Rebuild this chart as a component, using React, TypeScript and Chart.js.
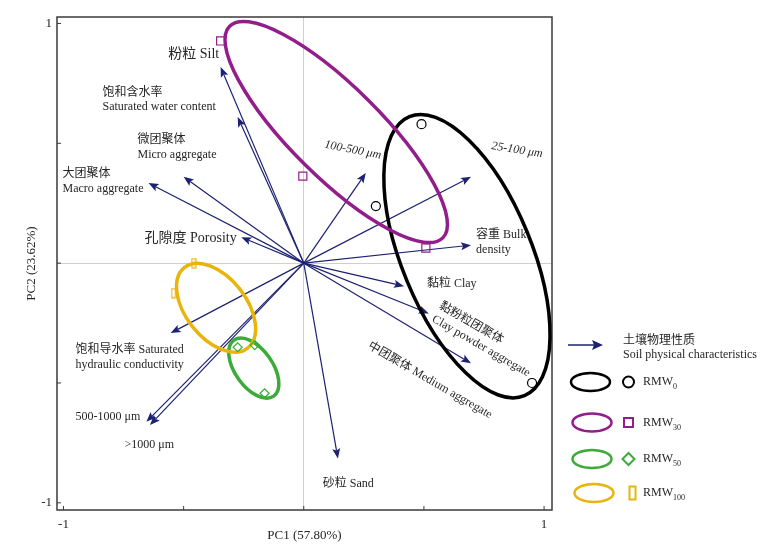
import React, { useEffect, useRef } from 'react';
import { Chart, registerables } from 'chart.js';

Chart.register(...registerables);

// ---------------- data ----------------
const variableNames = [
  '粉粒 Silt', '饱和含水率 Saturated water content', '微团聚体 Micro aggregate', '大团聚体 Macro aggregate',
  '孔隙度 Porosity', '100-500 μm', '25-100 μm', '容重 Bulk density', '黏粒 Clay',
  '黏粉粒团聚体 Clay powder aggregate', '中团聚体 Medium aggregate', '砂粒 Sand',
  '饱和导水率 Saturated hydraulic conductivity', '500-1000 μm', '>1000 μm',
];
const loadingPC1 = [-0.346, -0.275, -0.5, -0.646, -0.26, 0.258, 0.696, 0.696, 0.417, 0.52, 0.696, 0.142, -0.554, -0.655, -0.64];
const loadingPC2 = [0.818, 0.61, 0.36, 0.334, 0.108, 0.376, 0.36, 0.075, -0.096, -0.21, -0.418, -0.815, -0.292, -0.662, -0.675];

const groupNames = ['RMW', 'RMW', 'RMW', 'RMW'];
const groupSubscripts = ['0', '30', '50', '100'];

const rmw0PC1 = [0.49, 0.30, 0.95];
const rmw0PC2 = [0.58, 0.238, -0.50];
const rmw30PC1 = [-0.346, -0.004, 0.508];
const rmw30PC2 = [0.927, 0.363, 0.063];
const rmw50PC1 = [-0.275, -0.204, -0.163];
const rmw50PC2 = [-0.351, -0.342, -0.543];
const rmw100PC1 = [-0.458, -0.542];
const rmw100PC2 = [0.0, -0.125];

const ellipseCenterPC1 = [0.679, 0.135, -0.208, -0.365];
const ellipseCenterPC2 = [0.029, 0.547, -0.438, -0.186];
const ellipseSemiMajor = [0.628, 0.625, 0.143, 0.213];
const ellipseSemiMinor = [0.27, 0.188, 0.078, 0.126];
const ellipseTiltDeg = [67.6, 44.8, 54.7, 52];

const axisTicks = [-1, -0.5, 0, 0.5, 1];
const labelledTicks = [-1, 1];
const xTitle = 'PC1 (57.80%)';
const yTitle = 'PC2 (23.62%)';
const legendArrowText = ['土壤物理性质', 'Soil physical characteristics'];

// ---------------- styles ----------------
const SERIF = '"Liberation Serif", "Times New Roman", "Noto Sans CJK SC", serif';
const TEXT = '#262626';
const ARROW = '#1d2270';
const groupColors = ['#000000', '#921e8c', '#3cab3a', '#e9b40c'];

// label layout (anchor in data units, left-middle unless align given)
const labelLayout = [
  { lines: ['粉粒 Silt'], x: -0.352, y: 0.873, align: 'right', rot: 0, size: 14 },
  { lines: ['饱和含水率', 'Saturated water content'], x: -0.8375, y: 0.712, rot: 0, size: 12 },
  { lines: ['微团聚体', 'Micro aggregate'], x: -0.692, y: 0.514, rot: 0, size: 12 },
  { lines: ['大团聚体', 'Macro aggregate'], x: -1.004, y: 0.372, rot: 0, size: 12 },
  { lines: ['孔隙度 Porosity'], x: -0.6625, y: 0.104, rot: 0, size: 14 },
  { lines: ['100-500 μm'], x: 0.204, y: 0.472, align: 'center', rot: 11, size: 12, italic: true },
  { lines: ['25-100 μm'], x: 0.8875, y: 0.472, align: 'center', rot: 9, size: 12, italic: true },
  { lines: ['容重 Bulk', 'density'], x: 0.717, y: 0.117, rot: 0, size: 12 },
  { lines: ['黏粒 Clay'], x: 0.5125, y: -0.088, rot: 0, size: 12 },
  { lines: ['黏粉粒团聚体'], x: 0.567, y: -0.175, rot: 30, size: 12 },
  { lines: ['Clay powder aggregate'], x: 0.5375, y: -0.23, rot: 30, size: 12 },
  { lines: ['中团聚体 Medium aggregate'], x: 0.271, y: -0.342, rot: 30, size: 12 },
  { lines: ['砂粒 Sand'], x: 0.079, y: -0.919, rot: 0, size: 12 },
  { lines: ['饱和导水率 Saturated', 'hydraulic conductivity'], x: -0.95, y: -0.363, rot: 0, size: 12 },
  { lines: ['500-1000 μm'], x: -0.95, y: -0.643, rot: 0, size: 12 },
  { lines: ['>1000 μm'], x: -0.746, y: -0.76, rot: 0, size: 12 },
];

function makeBarMarker(color: string, w: number, h: number, lw: number) {
  const c = document.createElement('canvas');
  c.width = w + 2;
  c.height = h + 2;
  const g = c.getContext('2d')!;
  g.strokeStyle = color;
  g.lineWidth = lw;
  g.strokeRect(1, 1, w, h);
  return c;
}

function drawArrow(ctx: CanvasRenderingContext2D, x0: number, y0: number, x1: number, y1: number, hl: number, hw: number) {
  const ang = Math.atan2(y1 - y0, x1 - x0);
  const c = Math.cos(ang), s = Math.sin(ang);
  const bx = x1 - hl * c, by = y1 - hl * s;
  ctx.beginPath();
  ctx.moveTo(x0, y0);
  ctx.lineTo(bx + 2 * c, by + 2 * s);
  ctx.stroke();
  ctx.beginPath();
  ctx.moveTo(x1, y1);
  ctx.lineTo(bx - hw * s, by + hw * c);
  ctx.lineTo(bx + 2 * c, by + 2 * s);
  ctx.lineTo(bx + hw * s, by - hw * c);
  ctx.closePath();
  ctx.fill();
}

function drawLegendMarker(ctx: CanvasRenderingContext2D, i: number, x: number, y: number) {
  ctx.strokeStyle = groupColors[i];
  ctx.lineWidth = 2;
  ctx.beginPath();
  if (i === 0) ctx.arc(x, y, 5.5, 0, Math.PI * 2);
  else if (i === 1) ctx.rect(x - 4.5, y - 4.5, 9, 9);
  else if (i === 2) { ctx.moveTo(x, y - 6); ctx.lineTo(x + 6, y); ctx.lineTo(x, y + 6); ctx.lineTo(x - 6, y); ctx.closePath(); }
  else ctx.rect(x + 1, y - 6.5, 6, 13);
  ctx.stroke();
}

const biplotPlugin = {
  id: 'biplot',
  beforeDatasetsDraw(chart: any) {
    const { ctx, chartArea: a, scales } = chart;
    const xs = scales.x, ys = scales.y;
    ctx.save();
    // frame
    ctx.strokeStyle = '#3a3a3a';
    ctx.lineWidth = 1.5;
    ctx.strokeRect(a.left, a.top, a.right - a.left, a.bottom - a.top);
    ctx.lineWidth = 1;
    axisTicks.forEach((v) => {
      const px = xs.getPixelForValue(v);
      ctx.beginPath(); ctx.moveTo(px, a.bottom); ctx.lineTo(px, a.bottom - 4); ctx.stroke();
      const py = ys.getPixelForValue(v);
      ctx.beginPath(); ctx.moveTo(a.left, py); ctx.lineTo(a.left + 4, py); ctx.stroke();
    });
    // arrows
    const ox = xs.getPixelForValue(0), oy = ys.getPixelForValue(0);
    ctx.strokeStyle = ARROW;
    ctx.fillStyle = ARROW;
    ctx.lineWidth = 1.2;
    loadingPC1.forEach((v, i) => {
      drawArrow(ctx, ox, oy, xs.getPixelForValue(v), ys.getPixelForValue(loadingPC2[i]), 10, 4);
    });
    // ellipses
    ellipseCenterPC1.forEach((cxv, i) => {
      const cx = xs.getPixelForValue(cxv);
      const cy = ys.getPixelForValue(ellipseCenterPC2[i]);
      const rx = Math.abs(xs.getPixelForValue(cxv + ellipseSemiMajor[i]) - cx);
      const ry = Math.abs(xs.getPixelForValue(cxv + ellipseSemiMinor[i]) - cx);
      ctx.strokeStyle = groupColors[i];
      ctx.lineWidth = 3.5;
      ctx.beginPath();
      ctx.ellipse(cx, cy, rx, ry, (ellipseTiltDeg[i] * Math.PI) / 180, 0, Math.PI * 2);
      ctx.stroke();
    });
    ctx.restore();
  },
  afterDatasetsDraw(chart: any) {
    const { ctx, scales } = chart;
    const xs = scales.x, ys = scales.y;
    ctx.save();
    ctx.fillStyle = TEXT;
    ctx.textBaseline = 'middle';
    labelLayout.forEach((l: any) => {
      ctx.save();
      ctx.translate(xs.getPixelForValue(l.x), ys.getPixelForValue(l.y));
      ctx.rotate((l.rot * Math.PI) / 180);
      ctx.font = `${l.italic ? 'italic ' : ''}${l.size}px ${SERIF}`;
      ctx.textAlign = l.align || 'left';
      l.lines.forEach((t: string, k: number) => ctx.fillText(t, 0, k * 14.5));
      ctx.restore();
    });

    // legend
    const lx = 568, ly = 345;
    ctx.strokeStyle = ARROW;
    ctx.fillStyle = ARROW;
    ctx.lineWidth = 1.5;
    drawArrow(ctx, lx, ly, lx + 35, ly, 11, 5);
    ctx.fillStyle = TEXT;
    ctx.textAlign = 'left';
    ctx.font = `12px ${SERIF}`;
    ctx.fillText(legendArrowText[0], 623, 341);
    ctx.fillText(legendArrowText[1], 623, 355);
    const rowY = [382, 422.5, 459, 493];
    const ellX = [590.5, 592, 592, 594];
    groupNames.forEach((name, i) => {
      const y = rowY[i];
      ctx.strokeStyle = groupColors[i];
      ctx.lineWidth = 2.5;
      ctx.beginPath();
      ctx.ellipse(ellX[i], y, 19.5, 9, 0, 0, Math.PI * 2);
      ctx.stroke();
      drawLegendMarker(ctx, i, 628.5, y);
      ctx.fillStyle = TEXT;
      ctx.font = `12px ${SERIF}`;
      ctx.fillText(name, 643, y);
      const w = ctx.measureText(name).width;
      ctx.font = `8px ${SERIF}`;
      ctx.fillText(groupSubscripts[i], 643 + w, y + 5);
    });
    ctx.restore();
  },
};

export default function App() {
  const ref = useRef<HTMLCanvasElement | null>(null);
  useEffect(() => {
    document.body.style.margin = '0';
    const canvas = ref.current!;
    const yellowMarker = makeBarMarker(groupColors[3], 4, 9, 1.2);
    const toPts = (xsArr: number[], ysArr: number[]) => xsArr.map((v, i) => ({ x: v, y: ysArr[i] }));
    const tickFont = { family: SERIF, size: 13 };
    const chart = new Chart(canvas, {
      type: 'scatter',
      data: {
        datasets: [
          { label: 'RMW0', data: toPts(rmw0PC1, rmw0PC2), pointStyle: 'circle', pointRadius: 4.5, borderColor: groupColors[0], backgroundColor: 'rgba(0,0,0,0)', borderWidth: 1.2 },
          { label: 'RMW30', data: toPts(rmw30PC1, rmw30PC2), pointStyle: 'rect', pointRadius: 5.7, borderColor: groupColors[1], backgroundColor: 'rgba(0,0,0,0)', borderWidth: 1.2 },
          { label: 'RMW50', data: toPts(rmw50PC1, rmw50PC2), pointStyle: 'rectRot', pointRadius: 4.5, borderColor: groupColors[2], backgroundColor: 'rgba(0,0,0,0)', borderWidth: 1.2 },
          { label: 'RMW100', data: toPts(rmw100PC1, rmw100PC2), pointStyle: yellowMarker as any, pointRadius: 5, borderColor: groupColors[3], backgroundColor: 'rgba(0,0,0,0)', borderWidth: 1.2 },
        ],
      },
      options: {
        responsive: false,
        animation: false,
        devicePixelRatio: 1,
        layout: { padding: { top: 17, right: 211, left: 0, bottom: 0 } },
        plugins: { legend: { display: false }, tooltip: { enabled: false } },
        scales: {
          x: {
            type: 'linear',
            min: -1.027,
            max: 1.033,
            afterFit: (s: any) => { s.height = 43; },
            afterBuildTicks: (s: any) => { s.ticks = axisTicks.map((v) => ({ value: v })); },
            border: { display: false },
            grid: {
              drawTicks: false,
              lineWidth: 1,
              color: (c: any) => (c.tick && c.tick.value === 0 ? '#cfcfcf' : 'rgba(0,0,0,0)'),
            },
            ticks: {
              padding: 7,
              color: TEXT,
              font: tickFont,
              callback: (v: any) => (labelledTicks.includes(Number(v)) ? String(v) : ''),
            },
            title: { display: true, text: xTitle, color: TEXT, font: { family: SERIF, size: 13 }, padding: { top: 0, bottom: 10 } },
          },
          y: {
            type: 'linear',
            min: -1.03,
            max: 1.027,
            afterFit: (s: any) => { s.width = 57; },
            afterBuildTicks: (s: any) => { s.ticks = axisTicks.map((v) => ({ value: v })); },
            border: { display: false },
            grid: {
              drawTicks: false,
              lineWidth: 1,
              color: (c: any) => (c.tick && c.tick.value === 0 ? '#cfcfcf' : 'rgba(0,0,0,0)'),
            },
            ticks: {
              padding: 5,
              color: TEXT,
              font: tickFont,
              callback: (v: any) => (labelledTicks.includes(Number(v)) ? String(v) : ''),
            },
            title: { display: true, text: yTitle, color: TEXT, font: { family: SERIF, size: 13 }, padding: { top: 24, bottom: 0 } },
          },
        },
      } as any,
      plugins: [biplotPlugin],
    });
    return () => chart.destroy();
  }, []);
  return <canvas ref={ref} width={763} height={553} style={{ display: 'block' }} />;
}
